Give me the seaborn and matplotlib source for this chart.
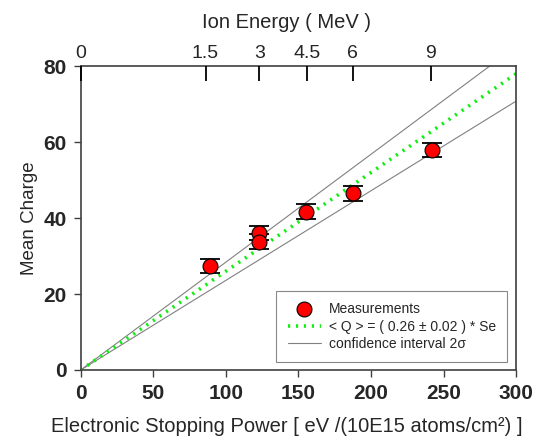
import numpy as np
import pandas as pd
import seaborn as sns
from matplotlib import pyplot as plt

stopping_power = [89, 122.5, 122.5, 155.5, 187.5, 242]
mean_charge = [27.4, 36.0, 33.8, 41.7, 46.5, 57.9]
charge_err = [1.9, 1.8, 1.9, 2.0, 1.9, 1.9]

# fit and confidence band
slope = 0.26
slope_err = 0.024
line_x = [0, 300]

# top axis: ion energy
energy_pos = [0, 86, 123, 156, 187.5, 241]
energy_labels = ['0', '1.5', '3', '4.5', '6', '9']

sns.set_style("ticks")
plt.rcParams['font.family'] = ['Liberation Sans', 'DejaVu Sans']

meas = pd.DataFrame({'Se': stopping_power, 'Q': mean_charge})
lines = pd.DataFrame({
    'Se': line_x * 3,
    'Q': [slope * x for x in line_x] + [(slope + slope_err) * x for x in line_x]
         + [(slope - slope_err) * x for x in line_x],
    'kind': ['fit'] * 2 + ['hi'] * 2 + ['lo'] * 2,
})

fig = plt.figure(figsize=(5.36, 4.41), dpi=100)
ax = fig.add_axes([0.1506, 0.161, 0.8124, 0.689])

sns.lineplot(data=lines[lines.kind == 'hi'], x='Se', y='Q', color='#808080', lw=0.8, ax=ax,
             label='confidence interval 2\u03c3')
sns.lineplot(data=lines[lines.kind == 'lo'], x='Se', y='Q', color='#808080', lw=0.8, ax=ax)
sns.lineplot(data=lines[lines.kind == 'fit'], x='Se', y='Q', color='#11ee11', lw=2.6, ax=ax,
             linestyle=(0, (0.6, 1.6)), label='< Q > = ( 0.26 \u00b1 0.02 ) * Se')
ax.errorbar(stopping_power, mean_charge, yerr=charge_err, fmt='none', ecolor='black',
            elinewidth=1.1, capsize=7.5, capthick=1.3, zorder=3)
sns.scatterplot(data=meas, x='Se', y='Q', color='red', edgecolor='black', linewidth=0.8,
                s=115, zorder=4, ax=ax, label='Measurements')

ax.set_xlim(0, 300)
ax.set_ylim(0, 80)
ax.set_xticks([0, 50, 100, 150, 200, 250, 300])
ax.set_yticks([0, 20, 40, 60, 80])
ax.tick_params(axis='both', labelsize=15, direction='out', length=5, width=1, color='#404040', pad=5)
for lab in ax.get_xticklabels() + ax.get_yticklabels():
    lab.set_fontweight('bold')
ax.set_xlabel('Electronic Stopping Power [ eV /(10E15 atoms/cm\u00b2) ]', fontsize=14.5)
ax.xaxis.set_label_coords(0.472, -0.155)
ax.set_ylabel('Mean Charge', fontsize=13.5)
ax.yaxis.set_label_coords(-0.097, 0.5)
for s in ax.spines.values():
    s.set_visible(True)
    s.set_color('#404040')
    s.set_linewidth(1.2)

top = ax.twiny()
top.set_xlim(0, 300)
top.set_xticks(energy_pos)
top.set_xticklabels(energy_labels)
top.tick_params(axis='x', direction='in', length=11, width=1.3, color='black', labelsize=14, pad=3)
top.set_xlabel('Ion Energy ( MeV )', fontsize=14.5)
top.xaxis.set_label_coords(0.472, 1.125)
for s in top.spines.values():
    s.set_visible(False)

handles, labels = ax.get_legend_handles_labels()
order = [labels.index('Measurements'), labels.index('< Q > = ( 0.26 \u00b1 0.02 ) * Se'),
         labels.index('confidence interval 2\u03c3')]
leg = ax.legend([handles[i] for i in order], [labels[i] for i in order],
                loc='lower right', bbox_to_anchor=(0.98, 0.026), borderaxespad=0, fontsize=10,
                fancybox=False, edgecolor='#888888', framealpha=1, borderpad=0.8,
                handlelength=2.4, handletextpad=0.6, labelspacing=0.25)
leg.get_frame().set_linewidth(0.8)

fig.savefig('out.png', dpi=100)
